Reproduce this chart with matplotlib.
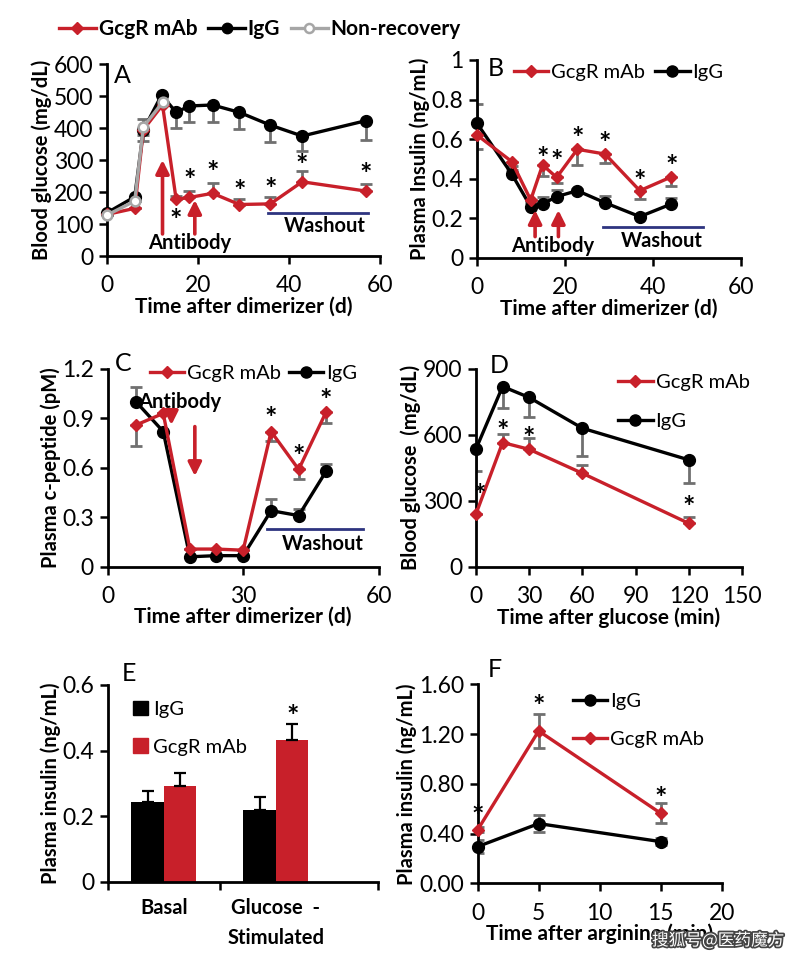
import matplotlib
matplotlib.use("Agg")
import matplotlib.pyplot as plt
from matplotlib.lines import Line2D
from matplotlib.patches import Patch
import matplotlib.patheffects as pe

plt.rcParams['font.family'] = ['Lato', 'DejaVu Sans']

RED = '#c8202a'
ERR = '#707070'
NAVY = '#2e3480'

# ---- panel A: blood glucose ----
a_red_t = [0, 6.1, 8, 12.2, 15.2, 18.1, 23.2, 29.1, 35.9, 42.9, 56.9]
a_red = [130, 149, 395, 472, 177, 183, 196, 161, 163, 232, 203]
a_red_err = [0, 0, 0, 0, 12, 20, 31, 17, 20, 35, 21]
a_igg_t = [0, 6.1, 8, 12, 15.2, 18.1, 23.2, 29.1, 35.9, 42.9, 56.9]
a_igg = [135, 185, 394, 503, 449, 469, 472, 449, 409, 375, 423]
a_igg_err = [0, 0, 36, 0, 50, 49, 54, 52, 54, 46, 61]
a_non_t = [0, 6.1, 8, 12.2]
a_non = [128, 172, 404, 480]
a_non_err = [0, 0, 25, 0]
a_star_t = [15.2, 18.1, 23.2, 29.1, 35.9, 42.9, 56.9]
a_star_y = [128, 253, 277, 217, 224, 298, 271]

# ---- panel B: plasma insulin ----
b_t = [0, 7.9, 12.2, 14.9, 18.1, 22.8, 29.1, 37, 44.2]
b_red = [0.621, 0.487, 0.293, 0.47, 0.407, 0.549, 0.525, 0.34, 0.41]
b_red_err = [0.07, 0.02, 0.01, 0.056, 0.03, 0.08, 0.045, 0.042, 0.046]
b_igg = [0.68, 0.424, 0.259, 0.273, 0.31, 0.34, 0.279, 0.209, 0.273]
b_igg_err = [0.1, 0.02, 0.02, 0.035, 0.033, 0.01, 0.034, 0.01, 0.03]
b_star_t = [14.9, 18.1, 22.8, 29.1, 37, 44.2]
b_star_y = [0.529, 0.512, 0.63, 0.604, 0.414, 0.486]

# ---- panel C: c-peptide ----
c_t = [6.3, 12.3, 18.2, 24, 30, 36.2, 42.3, 48.4]
c_red = [0.86, 0.93, 0.107, 0.107, 0.10, 0.82, 0.59, 0.94]
c_red_err = [0.13, 0, 0, 0, 0, 0.06, 0.06, 0.07]
c_igg = [1.0, 0.82, 0.06, 0.067, 0.067, 0.34, 0.31, 0.58]
c_igg_err = [0.09, 0, 0, 0, 0, 0.07, 0.04, 0.045]
c_star_t = [36.2, 42.3, 48.4]
c_star_y = [0.93, 0.70, 1.04]

# ---- panel D: glucose tolerance ----
d_t = [0, 15, 30, 60, 120]
d_red = [240, 565, 534, 425, 197]
d_red_err = [0, 40, 50, 40, 30]
d_igg = [536, 820, 770, 630, 486]
d_igg_err = [100, 100, 90, 125, 105]
d_star_t = [2, 15, 30, 120]
d_star_y = [349, 640, 605, 292]

# ---- panel E: insulin bars ----
e_groups = ['Basal', 'Glucose  -\nStimulated']
e_igg = [0.244, 0.22]
e_igg_err = [0.033, 0.037]
e_red = [0.292, 0.431]
e_red_err = [0.038, 0.051]

# ---- panel F: arginine ----
f_t = [0, 5, 15]
f_red = [0.43, 1.225, 0.563]
f_red_err = [0.02, 0.14, 0.08]
f_igg = [0.295, 0.48, 0.335]
f_igg_err = [0.05, 0.07, 0.03]
f_star_y = [0.58, 1.46, 0.72]


def style(ax, xlim, ylim, xticks, yticks, yfmt=None):
    ax.set_xlim(*xlim)
    ax.set_ylim(*ylim)
    for s in ['top', 'right']:
        ax.spines[s].set_visible(False)
    for s in ['left', 'bottom']:
        ax.spines[s].set_linewidth(2)
    ax.set_xticks(xticks)
    ax.set_yticks(yticks)
    if yfmt:
        ax.set_yticklabels([yfmt(v) for v in yticks])
    ax.tick_params(direction='out', length=6, width=1.8, labelsize=16.5)
    ax.tick_params(axis='x', pad=8)
    ax.tick_params(axis='y', pad=4)


def lines(ax, t, y, err, kind, down):
    if kind == 'red':
        kw = dict(color=RED, marker='D', ms=6.5, lw=2.4)
    elif kind == 'igg':
        kw = dict(color='black', marker='o', ms=8.5, lw=2.4)
    else:
        kw = dict(color='#a6a6a6', marker='o', ms=7, lw=2.4, mfc='white', mec='#a6a6a6', mew=1.8)
    if down is None:
        yerr = [err, err]
    elif down:
        yerr = [err, [0] * len(err)]
    else:
        yerr = [[0] * len(err), err]
    ax.errorbar(t, y, yerr=yerr, fmt='none', ecolor=ERR, elinewidth=2, capsize=4, capthick=2, zorder=2)
    ax.plot(t, y, zorder=3, clip_on=False, **kw)


def stars(ax, xs, ys):
    for x, y in zip(xs, ys):
        ax.annotate('*', (x, y), xytext=(0, -4), textcoords='offset points',
                    ha='center', va='center', fontsize=21, fontweight='bold')


def arrow(ax, x, y0, y1):
    ax.annotate('', xy=(x, y1), xytext=(x, y0),
                arrowprops=dict(arrowstyle='-|>', color=RED, lw=2.6, mutation_scale=20, shrinkA=0, shrinkB=0))


def leg(ax, handles, **kw):
    opts = dict(frameon=False, fontsize=14.5, handlelength=1.7, handletextpad=0.15,
                borderpad=0, borderaxespad=0)
    opts.update(kw)
    return ax.legend(handles=handles, **opts)


def red_h():
    return Line2D([], [], color=RED, marker='D', ms=6, lw=2.4, label='GcgR mAb')


def igg_h():
    return Line2D([], [], color='black', marker='o', ms=8, lw=2.4, label='IgG')


fig = plt.figure(figsize=(7.92, 9.6), dpi=100)
lab = dict(fontsize=15, fontweight='bold')
ylab = dict(fontsize=14.5, fontweight='bold')
txt = dict(ha='center', va='center', fontsize=14.5, fontweight='bold')

# A
axA = fig.add_axes([0.1351, 0.7333, 0.3447, 0.2])
lines(axA, a_igg_t, a_igg, a_igg_err, 'igg', True)
lines(axA, a_red_t, a_red, a_red_err, 'red', False)
lines(axA, a_non_t, a_non, a_non_err, 'non', None)
style(axA, (0, 60), (0, 600), [0, 20, 40, 60], range(0, 601, 100))
stars(axA, a_star_t, a_star_y)
arrow(axA, 12.2, 69, 300)
arrow(axA, 19.3, 69, 175)
axA.text(18.2, 40, 'Antibody', **txt)
axA.plot([35.4, 57.4], [136, 136], color=NAVY, lw=2)
axA.text(47.9, 93, 'Washout', **txt)
axA.text(1.5, 565, 'A', fontsize=18, va='center')
axA.set_xlabel('Time after dimerizer (d)', labelpad=0, **lab)
axA.set_ylabel('Blood glucose (mg/dL)', labelpad=1, **ylab)

# B
axB = fig.add_axes([0.6023, 0.73125, 0.3333, 0.20625])
lines(axB, b_t, b_igg, b_igg_err, 'igg', False)
lines(axB, b_t, b_red, b_red_err, 'red', True)
style(axB, (0, 60), (0, 1), [0, 20, 40, 60], [0, 0.2, 0.4, 0.6, 0.8, 1],
      yfmt=lambda v: '%g' % v)
stars(axB, b_star_t, b_star_y)
arrow(axB, 13.2, 0.108, 0.242)
arrow(axB, 18.5, 0.108, 0.242)
axB.text(17.3, 0.06, 'Antibody', **txt)
axB.plot([28.7, 51.4], [0.158, 0.158], color=NAVY, lw=2)
axB.text(42, 0.085, 'Washout', **txt)
axB.text(2.5, 0.955, 'B', fontsize=18, va='center')
leg(axB, [red_h(), igg_h()], loc='center left', bbox_to_anchor=(0.14, 0.935), ncol=2, columnspacing=0.5)
axB.set_xlabel('Time after dimerizer (d)', labelpad=0, **lab)
axB.set_ylabel('Plasma Insulin (ng/mL)', labelpad=1, **ylab)

# C
axC = fig.add_axes([0.136, 0.4097, 0.342, 0.206])
lines(axC, c_t, c_igg, c_igg_err, 'igg', False)
lines(axC, c_t, c_red, c_red_err, 'red', True)
style(axC, (0, 60), (0, 1.2), [0, 30, 60], [0, 0.3, 0.6, 0.9, 1.2], yfmt=lambda v: '%g' % v)
stars(axC, c_star_t, c_star_y)
arrow(axC, 14.1, 0.935, 0.86)
arrow(axC, 19.3, 0.85, 0.55)
axC.text(16, 1.0, 'Antibody', **txt)
axC.plot([35.2, 56.5], [0.23, 0.23], color=NAVY, lw=2)
axC.text(47.6, 0.14, 'Washout', **txt)
axC.text(1.5, 1.23, 'C', fontsize=18, va='center')
leg(axC, [red_h(), igg_h()], loc='center left', bbox_to_anchor=(0.155, 0.975), ncol=2, columnspacing=0.4)
axC.set_xlabel('Time after dimerizer (d)', labelpad=0, **lab)
axC.set_ylabel('Plasma c-peptide (pM)', labelpad=1, **ylab)

# D
axD = fig.add_axes([0.601, 0.4097, 0.336, 0.206])
lines(axD, d_t, d_igg, d_igg_err, 'igg', True)
lines(axD, d_t, d_red, d_red_err, 'red', False)
style(axD, (0, 150), (0, 900), [0, 30, 60, 90, 120, 150], [0, 300, 600, 900])
stars(axD, d_star_t, d_star_y)
axD.text(8, 915, 'D', fontsize=18, va='center')
leg(axD, [red_h(), igg_h()], loc='upper left', bbox_to_anchor=(0.535, 0.975), labelspacing=1.1)
axD.set_xlabel('Time after glucose (min)', labelpad=0, **lab)
axD.set_ylabel('Blood glucose  (mg/dL)', labelpad=1, **ylab)

# E
axE = fig.add_axes([0.1367, 0.0816, 0.3409, 0.2049])
xs = range(len(e_groups))
w = 0.29
axE.bar([x - w / 2 for x in xs], e_igg, w, color='black', yerr=[[0, 0], e_igg_err],
        error_kw=dict(ecolor='black', elinewidth=1.6, capsize=4, capthick=1.6))
axE.bar([x + w / 2 for x in xs], e_red, w, color=RED, yerr=[[0, 0], e_red_err],
        error_kw=dict(ecolor='black', elinewidth=1.6, capsize=4, capthick=1.6))
style(axE, (-0.497, 1.913), (0, 0.6), [-0.497, 0.5, 1.913], [0, 0.2, 0.4, 0.6], yfmt=lambda v: '%g' % v)
axE.set_xticklabels([])
for x, g in zip(xs, e_groups):
    axE.text(x, -0.05, g, ha='center', va='top', fontsize=14.5, fontweight='bold', linespacing=1.6)
axE.annotate('*', (1 + w / 2, 0.52), xytext=(0, -4), textcoords='offset points',
             ha='center', va='center', fontsize=21, fontweight='bold')
axE.text(0.05, 0.635, 'E', fontsize=18, va='center', transform=axE.get_yaxis_transform())
leg(axE, [Patch(color='black', label='IgG'), Patch(color=RED, label='GcgR mAb')],
    loc='upper left', bbox_to_anchor=(0.09, 0.92), labelspacing=1.0,
    handlelength=0.75, handleheight=0.75, handletextpad=0.25)
axE.set_ylabel('Plasma insulin (ng/mL)', labelpad=1, **ylab)

# F
axF = fig.add_axes([0.6031, 0.0799, 0.3081, 0.2073])
lines(axF, f_t, f_igg, f_igg_err, 'igg', None)
lines(axF, f_t, f_red, f_red_err, 'red', None)
style(axF, (0, 20), (0, 1.6), [0, 5, 10, 15, 20], [0, 0.4, 0.8, 1.2, 1.6],
      yfmt=lambda v: '%.2f' % v)
stars(axF, f_t, f_star_y)
axF.text(0.8, 1.72, 'F', fontsize=18, va='center')
leg(axF, [igg_h(), red_h()], loc='upper left', bbox_to_anchor=(0.39, 0.955), labelspacing=1.0)
axF.set_xlabel('Time after arginine (min)', labelpad=0, **lab)
axF.set_ylabel('Plasma insulin (ng/mL)', labelpad=1, **ylab)

# top legend
fig.legend(handles=[Line2D([], [], color=RED, marker='D', ms=6, lw=2.4, label='GcgR mAb'),
                    Line2D([], [], color='black', marker='o', ms=7.5, lw=2.4, label='IgG'),
                    Line2D([], [], color='#a6a6a6', marker='o', ms=6.5, lw=2.4, mfc='white',
                           mew=1.8, label='Non-recovery')],
           loc='center', bbox_to_anchor=(0.328, 0.97), ncol=3, frameon=False,
           prop=dict(size=15, weight='bold'), handlelength=1.8, handletextpad=0.12,
           columnspacing=0.5, borderpad=0)

fig.text(0.99, 0.02, '搜狐号@医药魔方', ha='right', va='center', fontsize=12, color='white',
         family=['Noto Sans CJK SC', 'DejaVu Sans'],
         path_effects=[pe.withStroke(linewidth=2.5, foreground='#444444')])

fig.savefig('out.png', dpi=100)
